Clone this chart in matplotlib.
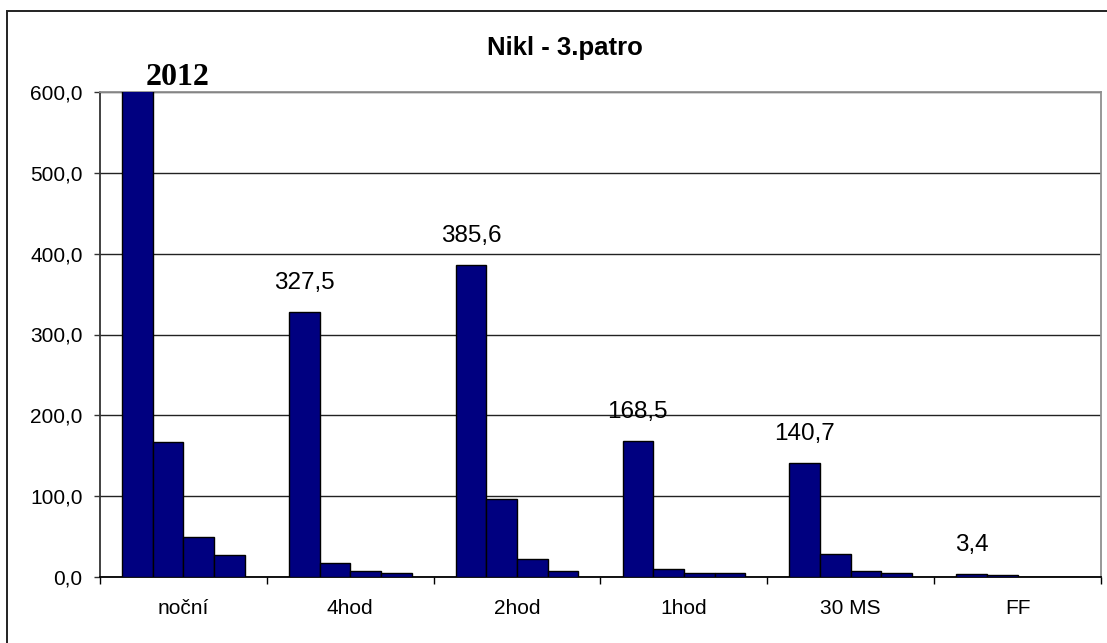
import numpy as np
import matplotlib
matplotlib.use('Agg')
import matplotlib.pyplot as plt
from matplotlib.patches import Rectangle

# ----------------
# Data
# ----------------

categories = ['noční', '4hod', '2hod', '1hod', '30 MS', 'FF']
series_1 = [2012.0, 327.5, 385.6, 168.5, 140.7, 3.4]
series_2 = [167.0, 17.0, 97.0, 10.0, 29.0, 2.5]
series_3 = [49.0, 7.0, 22.0, 5.0, 7.0, 0.0]
series_4 = [27.0, 4.5, 7.0, 5.0, 5.0, 0.0]
labels_1 = ['2012', '327,5', '385,6', '168,5', '140,7', '3,4']

yticks = [0, 100, 200, 300, 400, 500, 600]

# ----------------
# Plot
# ----------------

plt.rcParams['font.family'] = ['Liberation Sans', 'DejaVu Sans']

fig = plt.figure(figsize=(11.07, 6.43), dpi=100)
ax = fig.add_axes([100 / 1107, 1 - 577 / 643, 1001 / 1107, 485 / 643])

# outer chart frame
fig.patches.append(Rectangle((7 / 1107, -0.1), 1.2, 1.1 - 11 / 643,
                             transform=fig.transFigure, fill=False,
                             edgecolor='#222222', linewidth=1.4, zorder=0))

x = np.arange(len(categories))
w = 0.184
all_series = [series_1, series_2, series_3, series_4]
for i, vals in enumerate(all_series):
    ax.bar(x + (i - 1.5) * w, vals, width=w, color='#000080',
           edgecolor='black', linewidth=1.0, zorder=3)

# value labels above the first bar of each group
for xi, v, lab in zip(x, series_1, labels_1):
    xb = xi - 1.5 * w
    if v > yticks[-1]:
        ax.text(xb + 0.28 * w, yticks[-1], lab, ha='left', va='bottom',
                fontsize=23, fontweight='bold', family='Liberation Serif',
                zorder=5)
    else:
        ax.annotate(lab, (xb, v), xytext=(0, 13), textcoords='offset points',
                    ha='center', va='bottom', fontsize=17.5)

ax.set_xlim(-0.5, len(categories) - 0.5)
ax.set_ylim(0, 600)
ax.set_yticks(yticks)
ax.set_yticklabels([f'{t:.1f}'.replace('.', ',') for t in yticks], fontsize=15)
ax.set_xticks(x)
ax.set_xticklabels(categories, fontsize=15)
ax.tick_params(axis='x', length=0, pad=16)
ax.set_xticks(np.arange(len(categories) + 1) - 0.5, minor=True)
ax.tick_params(axis='x', which='minor', length=5, width=1.0, color='black')
ax.tick_params(axis='y', length=4, width=1.0, color='#333333', pad=8.5)

ax.yaxis.grid(True, color='#222222', linewidth=1.0, zorder=0)
ax.set_axisbelow(True)

ax.spines['top'].set_color('#909090')
ax.spines['right'].set_color('#909090')
ax.spines['left'].set_color('#333333')
ax.spines['bottom'].set_color('black')
for s in ax.spines.values():
    s.set_linewidth(1.3)

fig.text(565 / 1107, 1 - 48 / 643, 'Nikl - 3.patro', ha='center', va='center',
         fontsize=18.5, fontweight='bold')

fig.savefig('out.png', dpi=100)
plt.close(fig)
